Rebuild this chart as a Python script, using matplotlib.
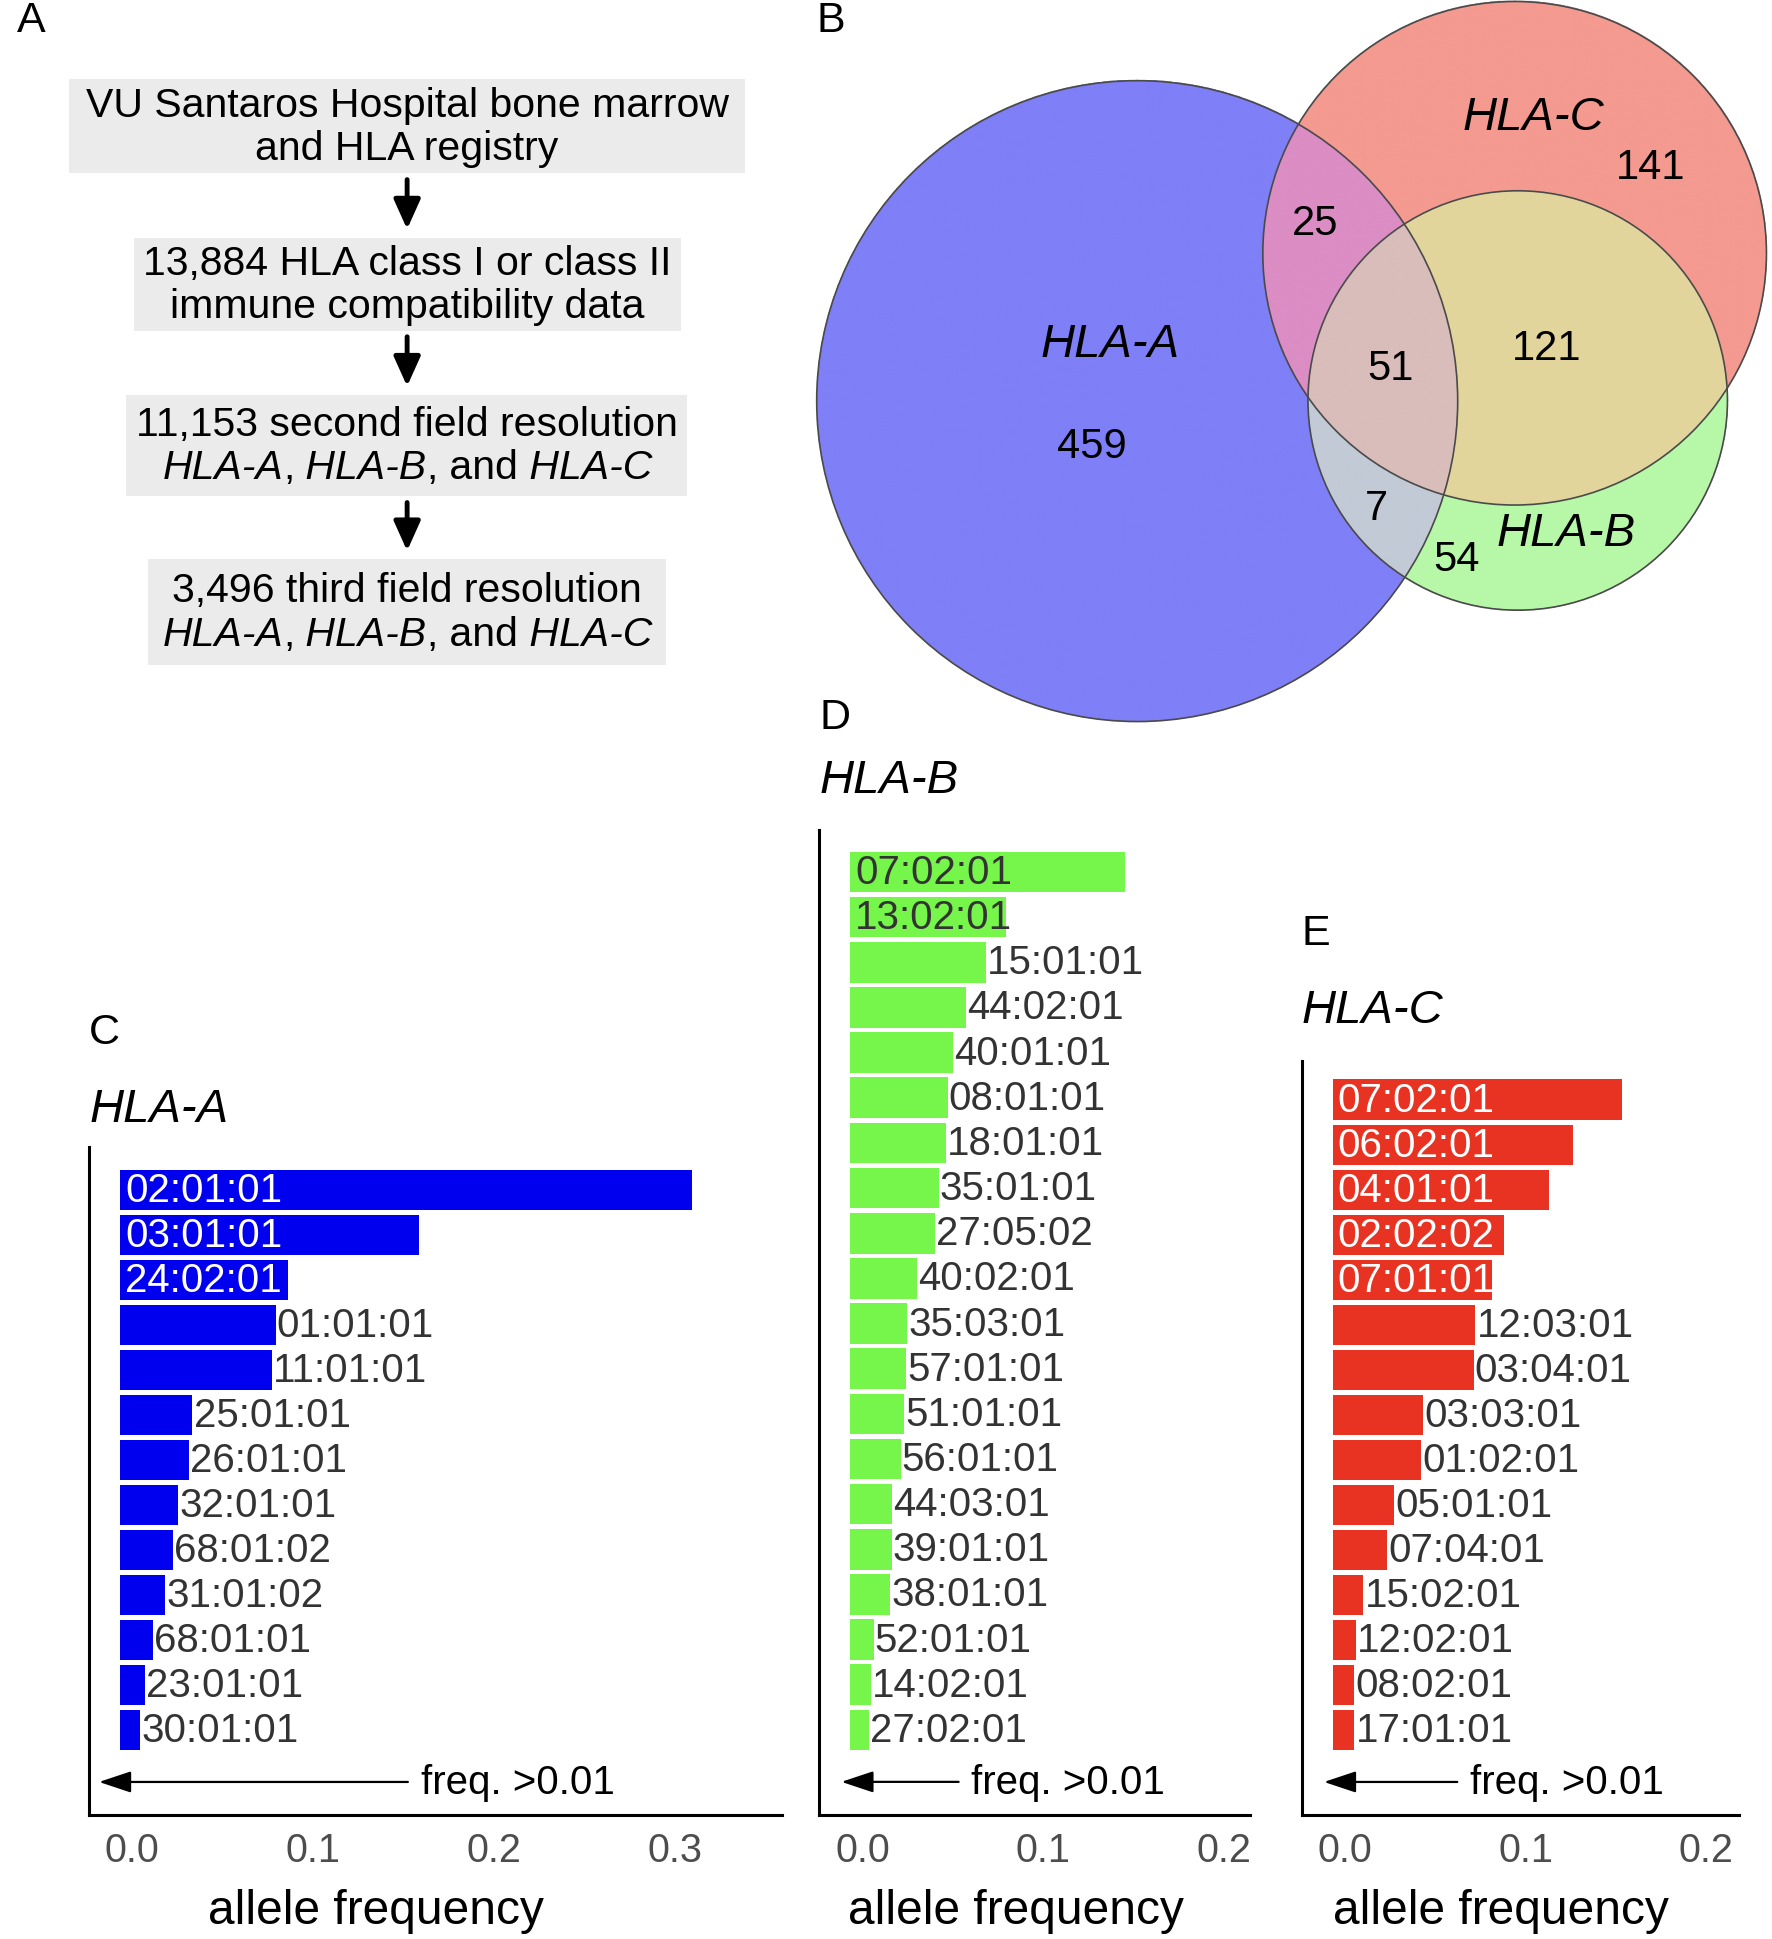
import numpy as np
import matplotlib
matplotlib.use("Agg")
import matplotlib.pyplot as plt
from matplotlib.patches import Circle, Rectangle
from matplotlib.colors import to_rgba
from matplotlib.transforms import ScaledTranslation

plt.rcParams["font.family"] = ["Liberation Sans", "DejaVu Sans"]

# ---- data ----
hla_a_alleles = ["02:01:01", "03:01:01", "24:02:01", "01:01:01", "11:01:01", "25:01:01",
                 "26:01:01", "32:01:01", "68:01:02", "31:01:02", "68:01:01", "23:01:01",
                 "30:01:01"]
hla_a_freq = [0.316, 0.165, 0.093, 0.086, 0.084, 0.040, 0.038, 0.032, 0.029, 0.025,
              0.018, 0.014, 0.011]

hla_b_alleles = ["07:02:01", "13:02:01", "15:01:01", "44:02:01", "40:01:01", "08:01:01",
                 "18:01:01", "35:01:01", "27:05:02", "40:02:01", "35:03:01", "57:01:01",
                 "51:01:01", "56:01:01", "44:03:01", "39:01:01", "38:01:01", "52:01:01",
                 "14:02:01", "27:02:01"]
hla_b_freq = [0.152, 0.086, 0.075, 0.064, 0.057, 0.054, 0.053, 0.049, 0.047, 0.037,
              0.0315, 0.031, 0.030, 0.028, 0.023, 0.023, 0.022, 0.013, 0.0115, 0.0105]

hla_c_alleles = ["07:02:01", "06:02:01", "04:01:01", "02:02:02", "07:01:01", "12:03:01",
                 "03:04:01", "03:03:01", "01:02:01", "05:01:01", "07:04:01", "15:02:01",
                 "12:02:01", "08:02:01", "17:01:01"]
hla_c_freq = [0.160, 0.133, 0.120, 0.095, 0.088, 0.079, 0.078, 0.050, 0.049, 0.034,
              0.030, 0.017, 0.013, 0.012, 0.012]

venn_regions = ["A", "C", "B", "AC", "BC", "ABC", "AB"]
venn_counts = [459, 141, 54, 25, 121, 51, 7]

flow_counts = ["VU Santaros Hospital bone marrow", "13,884", "11,153", "3,496"]

# ---- layout (reference units) ----
W, H = 1432, 1568
fig = plt.figure(figsize=(17.72, 19.40), dpi=100)
ov = fig.add_axes([0, 0, 1, 1])
ov.set_xlim(0, W)
ov.set_ylim(H, 0)
ov.set_autoscale_on(False)
ov.axis("off")
renderer = fig.canvas.get_renderer()
px_to_u = W / (17.72 * 100)

FS_FLOW = 29.5
FS_LETTER = 31


def mixed_line(xc, y, segs, size):
    # place text pieces (normal / italic) side by side, centred at xc
    widths = []
    for s, st in segs:
        t = ov.text(0, y, s, fontsize=size, style=st)
        widths.append(t.get_window_extent(renderer).width * px_to_u)
        t.remove()
    x = xc - sum(widths) / 2
    for (s, st), w in zip(segs, widths):
        ov.text(x, y, s, fontsize=size, style=st, ha="left", va="center")
        x += w


genes_line = [("HLA-A", "italic"), (",", "normal"), (" HLA-B", "italic"),
              (",", "normal"), (" and", "normal"), (" HLA-C", "italic")]

# panel A: flowchart
boxes = [(56, 65, 602, 141), (108, 193, 550, 268), (102, 320, 555, 402), (120, 453, 538, 538)]
box_lines = [
    [[(flow_counts[0], "normal")], [("and HLA registry", "normal")]],
    [[(flow_counts[1] + " HLA class I or class II", "normal")],
     [("immune compatibility data", "normal")]],
    [[(flow_counts[2] + " second field resolution", "normal")], genes_line],
    [[(flow_counts[3] + " third field resolution", "normal")], genes_line],
]
for (x0, y0, x1, y1), lines in zip(boxes, box_lines):
    ov.add_patch(Rectangle((x0, y0), x1 - x0, y1 - y0, facecolor="#EBEBEB",
                           edgecolor="none", zorder=0))
    yc = (y0 + y1) / 2
    mixed_line(329, yc - 17.5, lines[0], FS_FLOW)
    mixed_line(329, yc + 17.5, lines[1], FS_FLOW)

for (a, b) in zip(boxes[:-1], boxes[1:]):
    ov.annotate("", xy=(329, b[1] - 7), xytext=(329, a[3] + 5),
                arrowprops=dict(arrowstyle="-|>,head_length=0.6,head_width=0.27",
                                lw=3.5, color="black", mutation_scale=30,
                                shrinkA=0, shrinkB=0))

# panel B: Venn diagram
circ = {"A": (919, 325, 259), "C": (1224, 205.5, 203.5), "B": (1226.5, 324.5, 169.5)}
region_colors = {"A": "#7F7FF7", "C": "#F49A90", "B": "#B7F8A8", "AC": "#DB8DC4",
                 "BC": "#E2D59C", "ABC": "#D9BDBA", "AB": "#C2CAD6"}
xs = np.arange(650, 1438, 0.5)
ys = np.arange(0, 592, 0.5)
X, Y = np.meshgrid(xs, ys)
inside = {k: (X - cx) ** 2 + (Y - cy) ** 2 <= r ** 2 for k, (cx, cy, r) in circ.items()}
img = np.zeros(X.shape + (4,))
for reg in venn_regions:
    m = np.ones(X.shape, bool)
    for k in "ABC":
        m &= inside[k] if k in reg else ~inside[k]
    img[m] = to_rgba(region_colors[reg])
ov.imshow(img, extent=(xs[0], xs[-1] + 0.5, ys[-1] + 0.5, ys[0]), origin="upper",
          aspect="auto", interpolation="bilinear", zorder=1)
for cx, cy, r in circ.values():
    ov.add_patch(Circle((cx, cy), r, fill=False, edgecolor="#4A4A4A", lw=1.2, zorder=2))

count_pos = {"A": (882, 361), "C": (1334, 136), "B": (1177, 453), "AC": (1063, 181),
             "BC": (1250, 282), "ABC": (1124, 298), "AB": (1112, 411)}
for reg, n in zip(venn_regions, venn_counts):
    ov.text(*count_pos[reg], str(n), fontsize=30, ha="center", va="center", zorder=3)
for name, pos in [("HLA-A", (897, 279)), ("HLA-C", (1239, 95)), ("HLA-B", (1266, 432))]:
    ov.text(*pos, name, fontsize=34, style="italic", ha="center", va="center", zorder=3)

for letter, pos in [("A", (14, 17)), ("B", (660, 17)), ("C", (72, 835)),
                    ("D", (662, 580)), ("E", (1052, 755))]:
    ov.text(*pos, letter, fontsize=FS_LETTER, ha="left", va="center")


# panels C, D, E: bar charts
def bar_panel(left, right, top, alleles, freqs, color, n_in, in_color, xlim, ytop,
              ticks, title, title_y, xlabel_x, arrow_tip, arrow_tail):
    bottom = 1468
    ax = fig.add_axes([left / W, 1 - bottom / H, (right - left) / W, (bottom - top) / H])
    ax.set_facecolor("none")
    n = len(alleles)
    pos = np.arange(n)
    ax.barh(pos, freqs, height=0.9, left=0, color=color)
    for i, (lab, f) in enumerate(zip(alleles, freqs)):
        if i < n_in:
            ax.text(0.0028, i, lab, color=in_color, fontsize=29, ha="left", va="center")
        else:
            ax.text(f + 0.0006, i, lab, color="#333333", fontsize=29, ha="left", va="center")
    ay = n + 0.15
    ax.annotate("", xy=(arrow_tip, ay), xytext=(arrow_tail, ay),
                arrowprops=dict(arrowstyle="-|>,head_length=0.9,head_width=0.3",
                                lw=1.6, color="black", mutation_scale=22,
                                shrinkA=0, shrinkB=0))
    ax.text(arrow_tail + 0.007, ay, "freq. >0.01", fontsize=29, ha="left", va="center")
    ax.set_xlim(*xlim)
    ax.set_ylim(n + 0.89, ytop)
    ax.set_yticks([])
    ax.set_xticks(ticks)
    ax.set_xticklabels([f"{t:.1f}" for t in ticks])
    ax.tick_params(axis="x", length=0, pad=11, labelsize=28.5, labelcolor="#4D4D4D")
    shift = ScaledTranslation(0.123, 0, fig.dpi_scale_trans)
    for lab in ax.get_xticklabels():
        lab.set_transform(lab.get_transform() + shift)
    for s in ["top", "right"]:
        ax.spines[s].set_visible(False)
    for s in ["left", "bottom"]:
        ax.spines[s].set_linewidth(2.2)
        ax.spines[s].set_color("black")
    ov.text(xlabel_x, 1545, "allele frequency", fontsize=34.5, ha="center", va="center")
    ov.text(left, title_y, title, fontsize=34, style="italic", ha="left", va="center")
    return ax


bar_panel(72, 632, 928, hla_a_alleles, hla_a_freq, "#0000EE", 3, "white",
          (-0.0171, 0.3657), -0.95, [0.0, 0.1, 0.2, 0.3], "HLA-A", 897, 304,
          -0.0116, 0.159)
bar_panel(662, 1010, 672, hla_b_alleles, hla_b_freq, "#76F54B", 2, "#333333",
          (-0.0171, 0.221), -0.92, [0.0, 0.1, 0.2], "HLA-B", 631, 821,
          -0.0048, 0.060)
bar_panel(1052, 1405, 858, hla_c_alleles, hla_c_freq, "#E83322", 5, "white",
          (-0.0171, 0.2247), -0.87, [0.0, 0.1, 0.2], "HLA-C", 817, 1213,
          -0.0048, 0.069)

fig.savefig("out.png", dpi=100)
